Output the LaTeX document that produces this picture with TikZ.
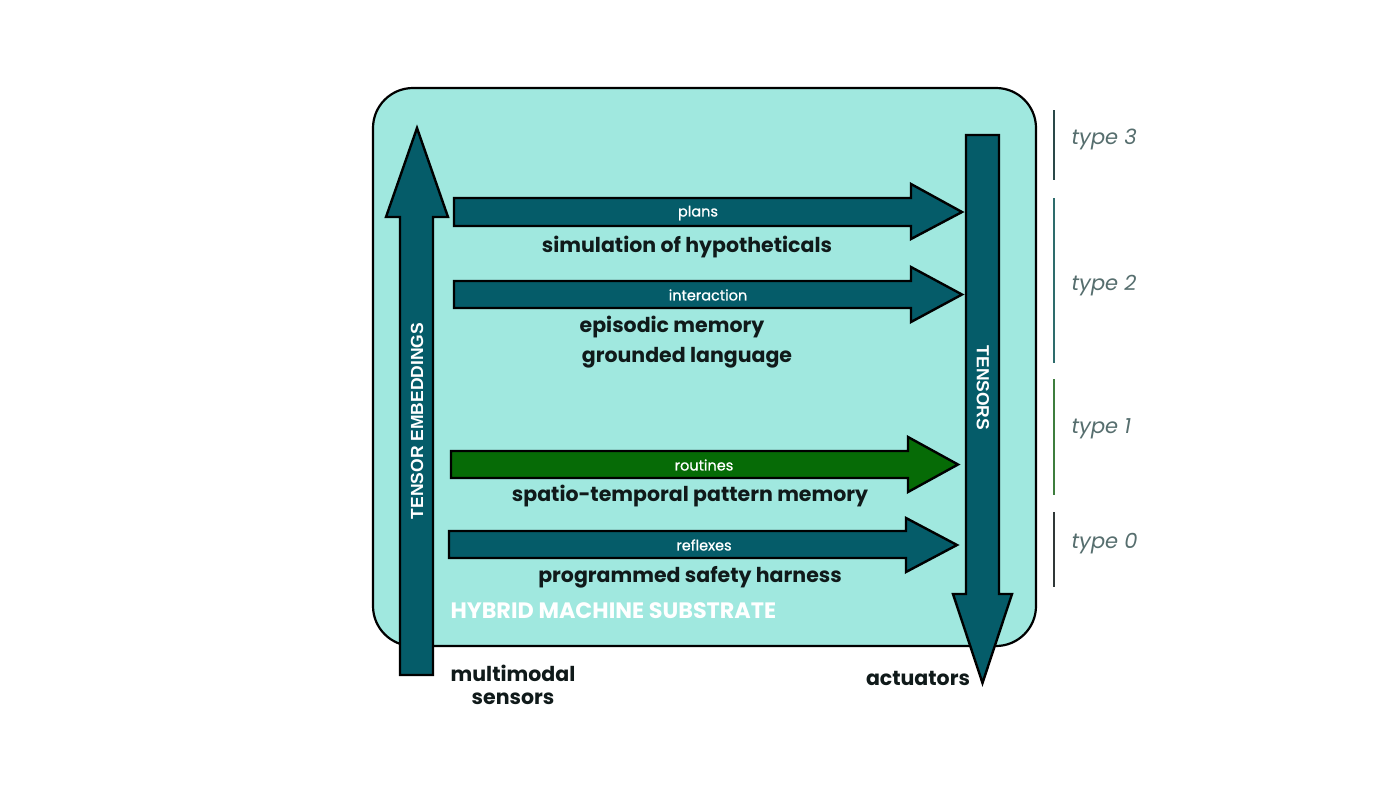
\documentclass[tikz,border=0pt]{standalone}
\usepackage{fontspec}
\setmainfont{Poppins}
\newfontfamily\arialf{Liberation Sans}
\newfontfamily\popmed{Poppins}[FakeBold=0.8]
\definecolor{bgaqua}{HTML}{A0E8DF}
\definecolor{teal}{HTML}{055C69}
\definecolor{grn}{HTML}{066B06}
\definecolor{ink}{HTML}{101A1A}
\definecolor{typegray}{HTML}{566E6E}
\definecolor{bar3}{HTML}{2A4848}
\definecolor{bar2}{HTML}{2E6C6C}
\definecolor{bar1}{HTML}{3E7E3E}
\definecolor{bar0}{HTML}{303838}
\begin{document}
\begin{tikzpicture}[x=1pt,y=-1pt,
  arrowshape/.style={draw=black,line width=2.4pt,line join=miter,fill=teal},
  small/.style={text=white,font=\popmed\fontsize{14.5}{14.5}\selectfont},
  big/.style={text=ink,font=\fontsize{20.5}{20.5}\selectfont\bfseries},
  vert/.style={text=white,font=\arialf\bfseries\fontsize{17.5}{17.5}\selectfont},
  typelab/.style={text=typegray,font=\itshape\fontsize{21}{21}\selectfont,anchor=west},
  typebar/.style={line width=2.2pt}]
\useasboundingbox (0,0) rectangle (1400,788);
\fill[white] (0,0) rectangle (1400,788);
% substrate
\draw[fill=bgaqua,line width=2.2pt,rounded corners=40pt] (373,88) rectangle (1036,646);
% left up arrow
\draw[arrowshape] (400,675) -- (400,217) -- (386,217) -- (417,128) -- (448,217) -- (433,217) -- (433,675) -- cycle;
% right down arrow
\draw[arrowshape] (966,135) -- (999,135) -- (999,594) -- (1012,594) -- (982.5,683) -- (953,594) -- (966,594) -- cycle;
% horizontal arrows
\draw[arrowshape] (454,198) -- (911,198) -- (911,184) -- (962,212) -- (911,239) -- (911,226) -- (454,226) -- cycle;
\draw[arrowshape] (454,281) -- (911,281) -- (911,267) -- (962,294.5) -- (911,322) -- (911,308) -- (454,308) -- cycle;
\draw[arrowshape,fill=grn] (451,451) -- (908,451) -- (908,437) -- (958,464.5) -- (908,492) -- (908,478) -- (451,478) -- cycle;
\draw[arrowshape] (449,531) -- (906,531) -- (906,518) -- (957,545) -- (906,572) -- (906,558) -- (449,558) -- cycle;
% labels
\node[vert,rotate=90] (te) at (417,421) {TENSOR EMBEDDINGS};
\node[vert,rotate=-90] (ts) at (983,388) {TENSORS};
\node[small] (pl) at (698,213) {plans};
\node[big] (sim) at (687,247) {simulation of hypotheticals};
\node[small] (ia) at (708,295) {interaction};
\node[big] (epi) at (672,327) {episodic memory};
\node[big] (gl) at (687,358) {grounded language};
\node[small] (rt) at (704,465) {routines};
\node[big] (stp) at (690,496) {spatio-temporal pattern memory};
\node[small] (rf) at (704,545) {reflexes};
\node[big] (psh) at (690,577) {programmed safety harness};
\node[text=white,font=\fontsize{22.3}{22.3}\selectfont\bfseries,anchor=west] (hms) at (447,611) {HYBRID MACHINE SUBSTRATE};
\node[big] (mm) at (513,673) {multimodal};
\node[big] (sn) at (513,699) {sensors};
\node[big] (ac) at (918,678) {actuators};
% type bars
\draw[typebar,bar3] (1054,110) -- (1054,180);
\draw[typebar,bar2] (1054,198) -- (1054,363);
\draw[typebar,bar1] (1054,379) -- (1054,495);
\draw[typebar,bar0] (1054,512) -- (1054,587);
\node[typelab] (t3) at (1068,139) {type 3};
\node[typelab] (t2) at (1068,286) {type 2};
\node[typelab] (t1) at (1068,429) {type 1};
\node[typelab] (t0) at (1068,544) {type 0};
\end{tikzpicture}
\end{document}
